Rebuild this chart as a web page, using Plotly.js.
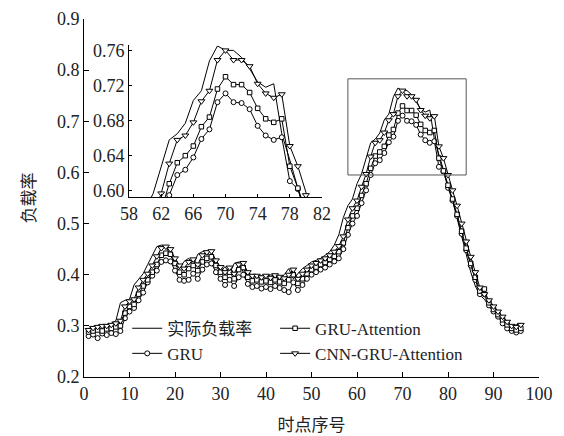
<!DOCTYPE html>
<html><head><meta charset="utf-8">
<script src="https://cdn.plot.ly/plotly-3.0.1.min.js"></script>
<style>body{margin:0;padding:0;background:#fff}#chart{width:564px;height:436px}</style>
</head><body><div id="chart"></div>
<script>
const xs = Array.from({length:96},(_,i)=>i+1);
const actual = [0.295,0.297,0.300,0.300,0.302,0.305,0.310,0.345,0.350,0.352,0.380,0.392,0.402,0.420,0.438,0.455,0.458,0.456,0.438,0.422,0.412,0.426,0.432,0.418,0.440,0.445,0.447,0.430,0.418,0.405,0.416,0.402,0.422,0.425,0.405,0.398,0.400,0.395,0.398,0.395,0.400,0.396,0.393,0.400,0.412,0.392,0.402,0.412,0.418,0.425,0.428,0.432,0.438,0.445,0.458,0.478,0.512,0.535,0.548,0.578,0.597,0.628,0.658,0.665,0.677,0.703,0.714,0.748,0.765,0.760,0.760,0.752,0.739,0.724,0.718,0.722,0.665,0.635,0.607,0.578,0.545,0.510,0.475,0.435,0.405,0.378,0.360,0.352,0.338,0.328,0.318,0.308,0.300,0.296,0.302,0.305];
const gruAtt = [0.288,0.290,0.292,0.290,0.294,0.295,0.298,0.300,0.325,0.338,0.342,0.362,0.378,0.390,0.405,0.420,0.438,0.442,0.440,0.422,0.405,0.400,0.412,0.418,0.408,0.425,0.432,0.435,0.418,0.405,0.395,0.405,0.392,0.410,0.414,0.395,0.388,0.390,0.386,0.388,0.385,0.390,0.386,0.383,0.390,0.400,0.383,0.392,0.402,0.410,0.415,0.420,0.424,0.430,0.436,0.445,0.462,0.492,0.515,0.530,0.555,0.578,0.608,0.632,0.640,0.651,0.673,0.684,0.716,0.730,0.721,0.721,0.712,0.694,0.682,0.678,0.682,0.628,0.603,0.575,0.548,0.518,0.485,0.452,0.422,0.395,0.368,0.372,0.345,0.332,0.322,0.312,0.302,0.295,0.292,0.295];
const gru = [0.280,0.283,0.276,0.285,0.282,0.286,0.284,0.290,0.315,0.328,0.335,0.350,0.365,0.385,0.398,0.408,0.425,0.428,0.426,0.408,0.390,0.388,0.390,0.402,0.392,0.410,0.420,0.422,0.405,0.392,0.380,0.390,0.378,0.395,0.400,0.382,0.376,0.378,0.373,0.376,0.372,0.378,0.374,0.370,0.366,0.385,0.370,0.380,0.392,0.400,0.405,0.410,0.414,0.420,0.426,0.432,0.450,0.478,0.500,0.515,0.540,0.565,0.595,0.618,0.624,0.638,0.659,0.670,0.701,0.711,0.701,0.700,0.693,0.674,0.663,0.658,0.661,0.611,0.602,0.570,0.545,0.515,0.480,0.448,0.418,0.390,0.362,0.362,0.340,0.328,0.318,0.305,0.295,0.290,0.287,0.290];
const cnnGruAtt = [0.292,0.296,0.298,0.300,0.300,0.302,0.305,0.310,0.338,0.348,0.352,0.375,0.390,0.402,0.418,0.436,0.452,0.455,0.450,0.432,0.418,0.412,0.425,0.430,0.420,0.438,0.444,0.446,0.428,0.415,0.405,0.414,0.402,0.420,0.423,0.405,0.398,0.398,0.395,0.398,0.394,0.399,0.396,0.393,0.400,0.410,0.392,0.402,0.410,0.418,0.423,0.428,0.432,0.438,0.445,0.456,0.475,0.508,0.530,0.545,0.572,0.597,0.631,0.658,0.663,0.678,0.702,0.714,0.749,0.760,0.749,0.749,0.742,0.722,0.711,0.706,0.710,0.651,0.628,0.595,0.565,0.535,0.500,0.465,0.435,0.405,0.375,0.362,0.350,0.338,0.328,0.318,0.308,0.300,0.298,0.302];
const names = ['实际负载率','GRU','GRU-Attention','CNN-GRU-Attention'];
const xTickVals = [0,10,20,30,40,50,60,70,80,90,100];
const yTickVals = [0.2,0.3,0.4,0.5,0.6,0.7,0.8,0.9];
const insetXTicks = [58,62,66,70,74,78,82];
const insetYTicks = [0.60,0.64,0.68,0.72,0.76];

const serif = 'Liberation Serif';
const cjk = 'Noto Sans CJK SC';
const lineStyle = {color:'#000', width:1};
function mk(sym, size){ return {symbol:sym, size:size, color:'#fff', line:{color:'#000', width:1}}; }
const series = [
  {y:actual, name:names[0], mode:'lines', marker:null, legend:'legend'},
  {y:gru, name:names[1], mode:'lines+markers', marker:mk('circle',5), legend:'legend'},
  {y:gruAtt, name:names[2], mode:'lines+markers', marker:mk('square',4.5), legend:'legend2'},
  {y:cnnGruAtt, name:names[3], mode:'lines+markers', marker:mk('triangle-down',6), legend:'legend2'}
];
const data = [];
series.forEach(s=>{
  const t = {x:xs, y:s.y, name:s.name, mode:s.mode, line:lineStyle, legend:s.legend, xaxis:'x', yaxis:'y'};
  if (s.marker) t.marker = s.marker;
  data.push(t);
});
series.forEach(s=>{
  const t = {x:xs, y:s.y, name:s.name, mode:s.mode, line:lineStyle, xaxis:'x2', yaxis:'y2', showlegend:false};
  if (s.marker) t.marker = s.marker;
  data.push(t);
});
function axBase(){ return {showline:true, linecolor:'#000', linewidth:1, ticks:'inside', ticklen:5, tickcolor:'#000', showgrid:false, zeroline:false, mirror:false, tickfont:{family:serif, size:18, color:'#222'}}; }
const layout = {
  width:564, height:436,
  margin:{l:84, r:25, t:19, b:59},
  font:{family:serif, size:18, color:'#000'},
  paper_bgcolor:'#fff', plot_bgcolor:'#fff',
  showlegend:true,
  xaxis: Object.assign(axBase(), {range:[0,100], tickvals:xTickVals, domain:[0,1],
    title:{text:'时点序号', font:{family:cjk, size:17, color:'#222'}, standoff:16}}),
  yaxis: Object.assign(axBase(), {range:[0.2,0.9], tickvals:yTickVals, tickformat:'.1f', domain:[0,1],
    title:{text:'负载率', font:{family:cjk, size:17, color:'#222'}, standoff:16}}),
  xaxis2: Object.assign(axBase(), {range:[58,82], tickvals:insetXTicks, domain:[0.099,0.523], anchor:'y2', ticklen:3}),
  yaxis2: Object.assign(axBase(), {range:[0.593,0.766], tickvals:insetYTicks, tickformat:'.2f', domain:[0.503,0.927], anchor:'x2', ticklen:3}),
  shapes:[{type:'rect', xref:'x', yref:'y', x0:58, x1:84, y0:0.595, y1:0.783, line:{color:'#555', width:1}, fillcolor:'rgba(0,0,0,0)'}],
  legend:{x:0.095, y:0.10, xanchor:'left', yanchor:'middle', bgcolor:'rgba(0,0,0,0)', font:{family:serif+', '+cjk, size:17, color:'#222'}, tracegroupgap:0, itemwidth:30},
  legend2:{x:0.42, y:0.10, xanchor:'left', yanchor:'middle', bgcolor:'rgba(0,0,0,0)', font:{family:serif, size:17, color:'#222'}, tracegroupgap:0, itemwidth:30}
};
Plotly.newPlot('chart', data, layout, {displayModeBar:false, staticPlot:true});
</script></body></html>
